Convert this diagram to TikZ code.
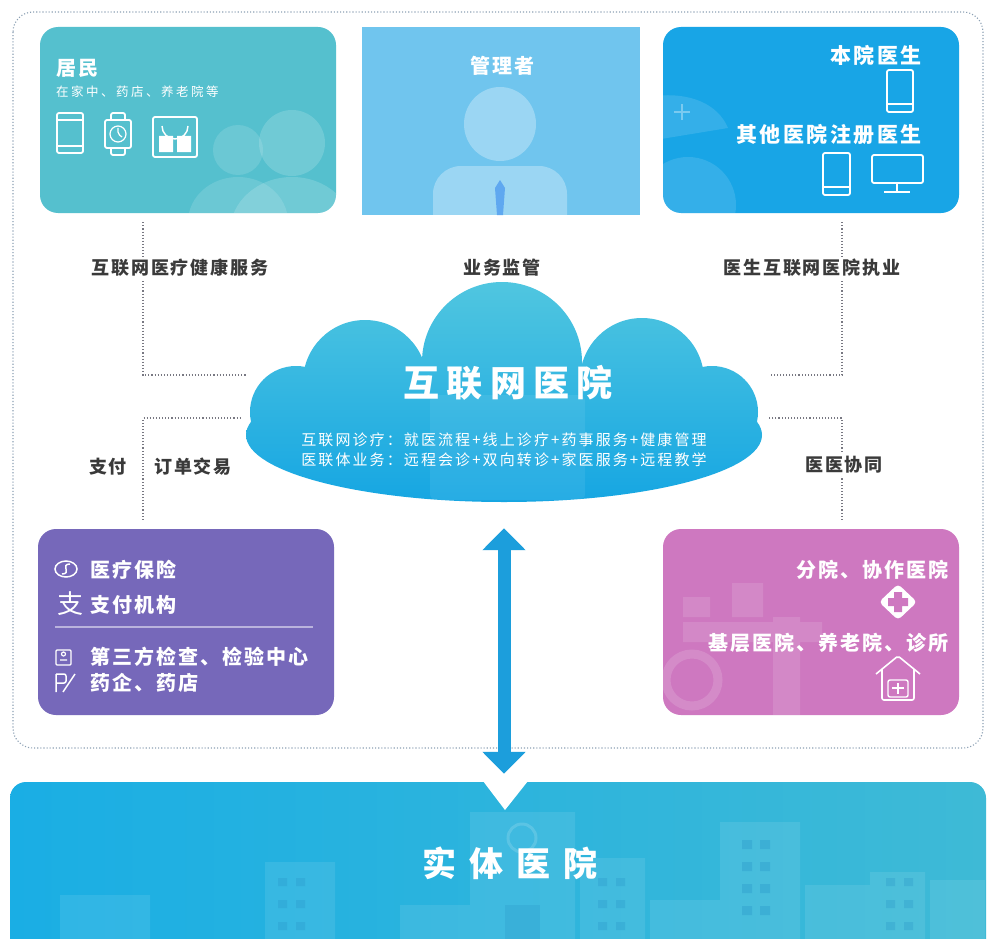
\documentclass[tikz,border=0pt]{standalone}
\usepackage{fontspec}
\newfontfamily\cjk{Noto Sans CJK SC}
\usetikzlibrary{positioning,arrows.meta}

\definecolor{residentc}{RGB}{85,192,206}
\definecolor{managerc}{RGB}{112,197,238}
\definecolor{doctorc}{RGB}{24,165,230}
\definecolor{payc}{RGB}{118,104,186}
\definecolor{coopc}{RGB}{206,120,192}
\definecolor{cloudtop}{RGB}{80,198,224}
\definecolor{cloudbot}{RGB}{22,166,226}
\definecolor{arrowc}{RGB}{28,158,220}
\definecolor{hospitalc}{RGB}{26,174,228}
\definecolor{hospitalr}{RGB}{62,186,214}
\definecolor{windowc}{RGB}{40,150,200}
\definecolor{tagc}{RGB}{58,58,58}
\definecolor{linkc}{RGB}{120,120,130}
\definecolor{framec}{RGB}{140,160,180}

\tikzstyle{card} = [rectangle, rounded corners=18pt, minimum width=296pt, minimum height=186pt, inner sep=0pt]
\tikzstyle{link} = [draw=linkc, dotted, line width=1.1pt]
\tikzstyle{frame} = [draw=framec, dotted, line width=1.1pt, rounded corners=20pt]
\tikzstyle{tag} = [fill=white, text=tagc, inner sep=2pt, font=\cjk\bfseries\fontsize{18}{18}\selectfont\addfontfeature{LetterSpace=10}]
\tikzstyle{title} = [text=white, font=\cjk\bfseries\fontsize{20}{20}\selectfont\addfontfeature{LetterSpace=10}]
\tikzstyle{item} = [text=white, font=\cjk\bfseries\fontsize{20}{20}\selectfont\addfontfeature{LetterSpace=10}]
\tikzstyle{note} = [text=white, font=\cjk\fontsize{12.5}{12.5}\selectfont\addfontfeature{LetterSpace=20}]
\tikzstyle{icon} = [draw=white, line width=1.8pt, rounded corners=2pt]
\tikzstyle{bigarrow} = [draw=arrowc, line width=13pt, {Triangle[width=42pt,length=22pt]}-{Triangle[width=42pt,length=22pt]}]

\begin{document}
\begin{tikzpicture}[x=1pt, y=-1pt, every node/.style={inner sep=0pt}]
	\useasboundingbox (0,0) rectangle (990,939);
	\fill[white] (0,0) rectangle (990,939);

	% platform frame
	\draw[frame] (13,12) rectangle (983,748);

	% top row
	\node[card, fill=residentc] (resident) at (188,120) {};
	\node[card, fill=managerc, sharp corners, minimum width=278pt, minimum height=188pt] (manager) at (501,121) {};
	\node[card, fill=doctorc] (doctor) at (811,120) {};

	\begin{scope}
		\clip[rounded corners=18pt] (resident.north west) rectangle (resident.south east);
		\fill[white, opacity=.13] (238,150) circle [radius=25] (238,222) ellipse [x radius=50, y radius=45];
		\fill[white, opacity=.16] (292,143) circle [radius=33] (292,232) ellipse [x radius=62, y radius=55];
	\end{scope}
	\begin{scope}
		\clip (manager.north west) rectangle (manager.south east);
		\fill[white, opacity=.3] (500,124) ellipse [x radius=36, y radius=37];
		\fill[white, opacity=.3, rounded corners=28pt] (433,166) rectangle (567,250);
		\fill[managerc!85!blue] (500,180) -- (505,188) -- (503,215) -- (497,215) -- (495,188) -- cycle;
	\end{scope}
	\begin{scope}
		\clip[rounded corners=18pt] (doctor.north west) rectangle (doctor.south east);
		\fill[white, opacity=.12] (688,205) circle [radius=48];
		\fill[white, opacity=.12] (655,96) .. controls (690,92) and (718,104) .. (728,128) -- (655,140) -- cycle;
		\draw[white, opacity=.35, line width=1.5pt] (674,112) -- (690,112) (682,104) -- (682,120);
	\end{scope}

	\node[title, anchor=west] (residenttitle) at (56,68) {居民};
	\node[note, anchor=west] (residentplace) at (56,92) {在家中、药店、养老院等};
	\node[title] (managertitle) at (502,66) {管理者};
	\node[item, font=\cjk\bfseries\fontsize{21}{21}\selectfont\addfontfeature{LetterSpace=12}, anchor=east] (selfdoctor) at (922,55) {本院医生};
	\node[item, font=\cjk\bfseries\fontsize{21}{21}\selectfont\addfontfeature{LetterSpace=12}, anchor=east] (otherdoctor) at (922,135) {其他医院注册医生};

	% resident devices
	\draw[icon] (57,113) rectangle (83,153);
	\draw[icon] (57,146) -- (83,146) (57,120) -- (83,120);
	\draw[icon] (105,120) rectangle (131,148);
	\draw[icon] (111,120) -- (111,113) -- (125,113) -- (125,120) (111,148) -- (111,155) -- (125,155) -- (125,148);
	\draw[icon, line width=1.2pt] (118,134) circle [radius=8];
	\draw[icon, line width=1.2pt] (118,128) -- (118,134) -- (122,137);
	\draw[icon] (153,117) rectangle (197,157);
	\draw[icon, line width=1.4pt] (162,126) arc [start angle=180, end angle=0, radius=13];
	\fill[white] (159,136) rectangle (173,152) (177,136) rectangle (191,152);

	% doctor devices
	\draw[icon] (887,70) rectangle (913,112);
	\draw[icon] (887,104) -- (913,104);
	\draw[icon] (823,153) rectangle (850,195);
	\draw[icon] (823,187) -- (850,187);
	\draw[icon] (872,155) rectangle (923,183);
	\draw[icon] (897,183) -- (897,191) (884,192) -- (910,192);

	% cloud
	\node[minimum width=516pt, minimum height=218pt] (cloud) at (504,393) {};
	\shade[top color=cloudtop, bottom color=cloudbot]
		(504,435) ellipse [x radius=258, y radius=67]
		(502,362) circle [radius=80]
		(365,382) circle [radius=62]
		(642,380) circle [radius=62]
		(296,412) circle [radius=46]
		(712,412) circle [radius=46];
	\fill[white, opacity=.07, rounded corners=6pt] (430,395) rectangle (585,500);
	\node[text=white, font=\cjk\bfseries\fontsize{36}{36}\selectfont\addfontfeature{LetterSpace=20}] (cloudtitle) at (508,383) {互联网医院};
	\node[note, font=\cjk\fontsize{15}{15}\selectfont\addfontfeature{LetterSpace=14}] (clinic) at (504,440) {互联网诊疗：就医流程+线上诊疗+药事服务+健康管理};
	\node[note, font=\cjk\fontsize{15}{15}\selectfont\addfontfeature{LetterSpace=14}] (alliance) at (504,460) {医联体业务：远程会诊+双向转诊+家医服务+远程教学};

	% bottom row
	\node[card, fill=payc] (payment) at (186,622) {};
	\node[card, fill=coopc] (coop) at (811,622) {};

	\begin{scope}
		\clip[rounded corners=18pt] (coop.north west) rectangle (coop.south east);
		\fill[white, opacity=.12] (683,597) rectangle (710,617) (732,583) rectangle (763,617);
		\fill[white, opacity=.12] (773,617) rectangle (800,720) (683,622) rectangle (822,642);
		\draw[white, opacity=.14, line width=9pt] (692,680) circle [radius=26];
	\end{scope}

	\draw[icon, line width=1.5pt] (66,569) ellipse [x radius=11, y radius=8];
	\draw[icon, line width=1.5pt] (70,564) .. controls (60,564) and (72,574) .. (62,574);
	\node[item, anchor=west] (insurance) at (90,570) {医疗保险};
	\node[text=white, font=\cjk\fontsize{26}{26}\selectfont] (alipay) at (70,604) {支};
	\node[item, anchor=west] (payorg) at (90,605) {支付机构};
	\draw[draw=payc!50!white, line width=1.5pt] (55,627) -- (313,627);
	\draw[icon, line width=1.4pt, rounded corners=1pt] (56,650) rectangle (71,665);
	\draw[icon, line width=1.2pt] (60,660) -- (67,660) (63.5,654) circle [radius=2];
	\node[item, anchor=west] (lab) at (90,657) {第三方检查、检验中心};
	\draw[icon, line width=1.5pt] (56,674) -- (56,692) (56,674) -- (66,674) -- (66,683) -- (56,683);
	\draw[icon, line width=1.5pt] (63,692) -- (75,674);
	\node[item, anchor=west] (pharma) at (90,683) {药企、药店};

	\node[item, anchor=east] (branch) at (949,570) {分院、协作医院};
	\fill[white, rounded corners=4pt] (898,584) -- (917,602) -- (898,620) -- (879,602) -- cycle;
	\fill[coopc] (894,592) rectangle (902,612) (888,598) rectangle (908,606);
	\node[item, anchor=east] (grassroots) at (949,643) {基层医院、养老院、诊所};
	\draw[icon, line width=1.6pt] (876,674) -- (898,656) -- (920,674);
	\draw[icon, line width=1.6pt] (882,669) -- (882,700) -- (914,700) -- (914,669);
	\draw[icon, line width=1.4pt] (888,680) rectangle (908,697);
	\draw[icon, line width=1.4pt] (892,688) -- (904,688) (898,683) -- (898,694);

	% links to the cloud
	\path[link, shorten <=9pt] ([xshift=-45pt]resident.south) |- ([yshift=18pt]cloud.west);
	\path[link, shorten <=9pt, shorten >=7pt] ([xshift=31pt]doctor.south) |- ([yshift=18pt]cloud.east);
	\path[link, shorten <=9pt, shorten >=4pt] ([xshift=-43pt]payment.north) |- ([yshift=-25pt]cloud.west);
	\path[link, shorten <=9pt, shorten >=7pt] ([xshift=31pt]coop.north) |- ([yshift=-25pt]cloud.east);

	\node[tag] (healthtag) at (180,268) {互联网医疗健康服务};
	\node[tag] (supervisetag) at (502,268) {业务监管};
	\node[tag] (practicetag) at (812,268) {医生互联网医院执业};
	\node[tag] (paytag) at (108,467) {支付};
	\node[tag] (ordertag) at (193,467) {订单交易};
	\node[tag] (synergytag) at (844,465) {医医协同};

	% physical hospital
	\node[rectangle, rounded corners=16pt, minimum width=976pt, minimum height=200pt, left color=hospitalc, right color=hospitalr] (hospital) at (498,882) {};
	\begin{scope}
		\clip[rounded corners=16pt] (hospital.north west) rectangle (hospital.south east);
		\fill[white, opacity=.09] (60,895) rectangle (150,945) (265,862) rectangle (335,945) (400,905) rectangle (470,945)
			(470,812) rectangle (575,945) (580,858) rectangle (645,945) (650,900) rectangle (720,945)
			(720,822) rectangle (800,945) (805,885) rectangle (870,945) (870,872) rectangle (925,945) (930,880) rectangle (985,945);
		\draw[white, opacity=.15, line width=3pt] (522,838) circle [radius=14];
		\foreach \y in {840,862,884,906} {
			\fill[windowc, opacity=.35] (742,\y) rectangle ++(10,9) (760,\y) rectangle ++(10,9);
		}
		\foreach \y in {878,900,922} {
			\fill[windowc, opacity=.3] (278,\y) rectangle ++(9,8) (296,\y) rectangle ++(9,8);
			\fill[windowc, opacity=.3] (598,\y) rectangle ++(9,8) (616,\y) rectangle ++(9,8);
			\fill[windowc, opacity=.3] (886,\y) rectangle ++(9,8) (904,\y) rectangle ++(9,8);
		}
		\fill[windowc, opacity=.25] (505,905) rectangle (540,945);
	\end{scope}
	\fill[white] (483,781) -- (528,781) -- (505,810) -- cycle;
	\node[text=white, font=\cjk\bfseries\fontsize{34}{34}\selectfont\addfontfeature{LetterSpace=38}] (hospitaltitle) at (510,863) {实体医院};

	\path[bigarrow, shorten <=26pt, shorten >=8pt] (cloud.south) -- (cloud.south |- hospital.north);
\end{tikzpicture}
\end{document}
